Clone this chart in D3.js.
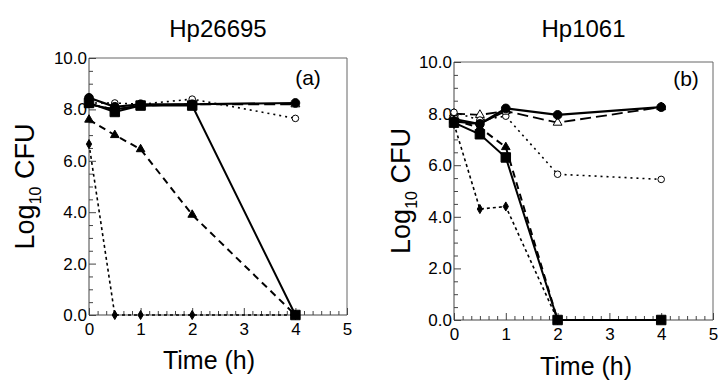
<!DOCTYPE html>
<html>
<head>
<meta charset="utf-8">
<script src="https://cdn.jsdelivr.net/npm/d3@7"></script>
<style>
  body { margin: 0; background: #fff; }
  svg { display: block; font-family: "Liberation Sans", Arial, sans-serif; }
</style>
</head>
<body>
<svg id="chart" width="719" height="382"></svg>
<script>
// sampling times (h)
const hours = [0, 0.5, 1, 2, 4];
const xTicks = [0, 1, 2, 3, 4, 5];
const yTicks = [0, 2, 4, 6, 8, 10];

// panel (a) Hp26695, log10 CFU
const a_circleFilled = [8.45, 8.1, 8.2, 8.2, 8.25];
const a_circleOpen = [8.25, 8.25, 8.2, 8.4, 7.65];
const a_squareFilled = [8.25, 7.9, 8.15, 8.15, 0];
const a_squareOpen = [8.2, 8.0, 8.15, 8.2, null];
const a_triangleOpen = [8.2, 8.0, 8.15, 8.2, 8.2];
const a_triangleFilled = [7.6, 7.0, 6.45, 3.9, 0];
const a_diamond = [6.65, 0, 0, 0, 0];

// panel (b) Hp1061
const b_circleFilled = [7.7, 7.6, 8.2, 7.95, 8.25];
const b_circleOpen = [8.05, 7.75, 7.9, 5.65, 5.45];
const b_squareFilled = [7.65, 7.2, 6.3, 0, 0];
const b_squareOpen = [7.8, 7.6, 8.1, null, null];
const b_triangleOpen = [8.0, 7.95, 8.1, 7.65, 8.25];
const b_triangleFilled = [7.75, 7.45, 6.7, 0, null];
const b_diamond = [7.6, 4.3, 4.4, 0, null];

const styles = {
  triangleOpen:   { dash: "11,5", width: 1.8, marker: "triangle", fill: "#fff", size: 34 },
  circleOpen:     { dash: "2,4",  width: 1.6, marker: "circle",   fill: "#fff", size: 34 },
  squareOpen:     { dash: null,   width: 1.8, marker: "square",   fill: "#fff", size: 40 },
  diamond:        { dash: "3,3",  width: 1.6, marker: "diamond",  fill: "#000", size: 24 },
  triangleFilled: { dash: "7,5",  width: 2,   marker: "triangle", fill: "#000", size: 32 },
  squareFilled:   { dash: null,   width: 2,   marker: "square",   fill: "#000", size: 90 },
  circleFilled:   { dash: null,   width: 2.2, marker: "circle",   fill: "#000", size: 60 }
};

const panels = [
  { title: "Hp26695", tag: "(a)", left: 89, right: 347, top: 58, bottom: 315,
    ylabX: 25, xlabX: 209, xlabY: 369, tagX: 308, tagY: 85,
    series: { triangleOpen: a_triangleOpen, circleOpen: a_circleOpen, squareOpen: a_squareOpen,
              diamond: a_diamond, triangleFilled: a_triangleFilled,
              squareFilled: a_squareFilled, circleFilled: a_circleFilled } },
  { title: "Hp1061", tag: "(b)", left: 454, right: 713, top: 62, bottom: 320,
    ylabX: 401, xlabX: 586, xlabY: 375, tagX: 686, tagY: 86,
    series: { triangleOpen: b_triangleOpen, circleOpen: b_circleOpen, squareOpen: b_squareOpen,
              diamond: b_diamond, triangleFilled: b_triangleFilled,
              squareFilled: b_squareFilled, circleFilled: b_circleFilled } }
];

const svg = d3.select("#chart");
const symbolType = { circle: d3.symbolCircle, square: d3.symbolSquare, triangle: d3.symbolTriangle, diamond: d3.symbolDiamond };

panels.forEach(p => {
  const x = d3.scaleLinear().domain([0, 5]).range([p.left, p.right]);
  const y = d3.scaleLinear().domain([0, 10]).range([p.bottom, p.top]);
  const g = svg.append("g");

  // title
  g.append("text").attr("x", (p.left + p.right) / 2).attr("y", 37)
    .attr("text-anchor", "middle").style("font-size", "24px").text(p.title);

  // frame (top / right)
  g.append("path")
    .attr("d", `M${p.left},${p.top}H${p.right}V${p.bottom}`)
    .attr("fill", "none").attr("stroke", "#666").attr("stroke-width", 1);

  // x axis, minor ticks every 10 min, pointing inward
  const xAxis = g.append("g").attr("transform", `translate(0,${p.bottom})`)
    .call(d3.axisTop(x).tickValues(d3.range(0, 31).map(i => i / 6)).tickSize(4).tickFormat(""));
  xAxis.selectAll(".tick line").filter(d => Math.abs(d - Math.round(d)) < 1e-6).attr("y2", -7);
  xAxis.select(".domain").attr("d", `M${p.left},0H${p.right}`);
  g.append("g").attr("transform", `translate(0,${p.bottom})`)
    .call(d3.axisBottom(x).tickValues(xTicks).tickSize(0).tickPadding(8).tickFormat(d3.format("d")))
    .call(a => a.select(".domain").remove())
    .selectAll("text").style("font-size", "17px").attr("fill", "#000");

  // y axis, ticks pointing inward
  const yAxis = g.append("g").attr("transform", `translate(${p.left},0)`)
    .call(d3.axisRight(y).tickValues(d3.range(0, 10.01, 0.5)).tickSize(4).tickFormat(""));
  yAxis.selectAll(".tick line").filter(d => Math.abs(d / 2 - Math.round(d / 2)) < 1e-6).attr("x2", 7);
  yAxis.select(".domain").attr("d", `M0,${p.bottom}V${p.top}`);
  g.append("g").attr("transform", `translate(${p.left},0)`)
    .call(d3.axisLeft(y).tickValues(yTicks).tickSize(0).tickPadding(2).tickFormat(d3.format(".1f")))
    .call(a => a.select(".domain").remove())
    .selectAll("text").style("font-size", "17px").attr("fill", "#000");

  g.selectAll(".domain").attr("stroke", "#444");
  g.selectAll(".tick line").attr("stroke", "#444");

  // axis titles
  const yl = g.append("text")
    .attr("transform", `translate(${p.ylabX},${(p.top + p.bottom) / 2}) rotate(-90)`)
    .attr("text-anchor", "middle").attr("dy", "0.35em").style("font-size", "27px");
  yl.append("tspan").text("Log");
  yl.append("tspan").attr("dy", 7).style("font-size", "16px").text("10");
  yl.append("tspan").attr("dy", -7).text(" CFU");

  g.append("text").attr("x", p.xlabX).attr("y", p.xlabY)
    .attr("text-anchor", "middle").style("font-size", "25px").text("Time (h)");

  g.append("text").attr("x", p.tagX).attr("y", p.tagY)
    .attr("text-anchor", "middle").style("font-size", "21px").text(p.tag);

  // series
  Object.entries(p.series).forEach(([key, vals]) => {
    const st = styles[key];
    const pts = hours.map((h, i) => ({ h, v: vals[i] })).filter(d => d.v !== null);
    const line = d3.line().x(d => x(d.h)).y(d => y(d.v));
    g.append("path").datum(pts)
      .attr("d", line).attr("fill", "none")
      .attr("stroke", "#000").attr("stroke-width", st.width)
      .attr("stroke-dasharray", st.dash);
    g.selectAll(null).data(pts).enter().append("path")
      .attr("transform", d => `translate(${x(d.h)},${y(d.v)})`)
      .attr("d", d3.symbol().type(symbolType[st.marker]).size(st.size))
      .attr("fill", st.fill).attr("stroke", "#000").attr("stroke-width", 1);
  });
});
</script>
</body>
</html>
